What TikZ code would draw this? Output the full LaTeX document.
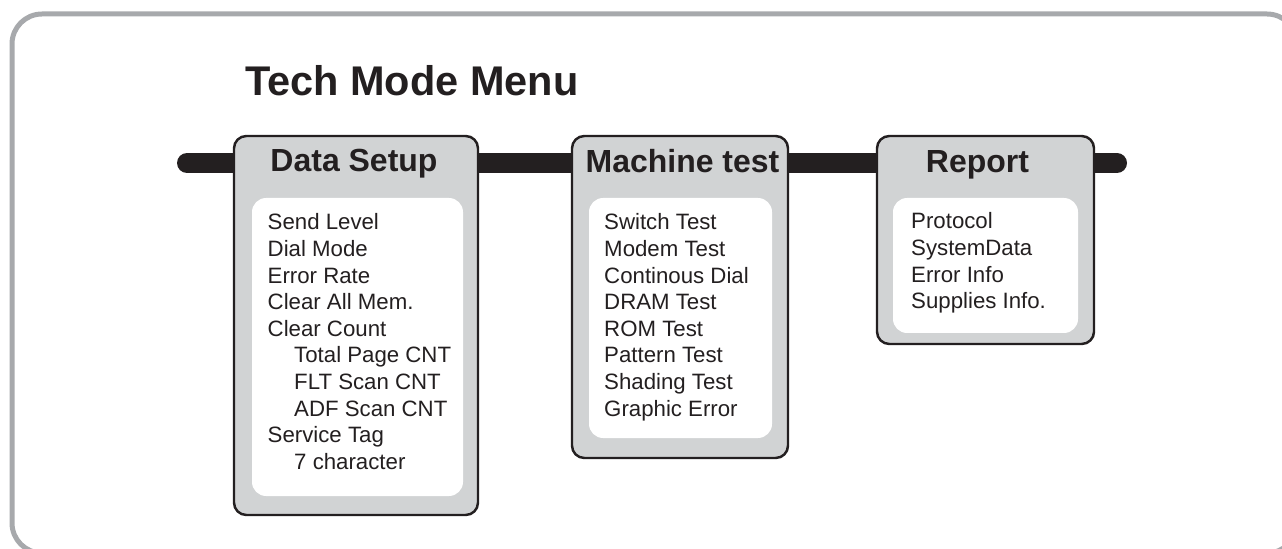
\documentclass[tikz,border=0pt]{standalone}
\usepackage{fontspec}
\setmainfont{Liberation Sans}
\usetikzlibrary{positioning, backgrounds}
\definecolor{cink}{HTML}{231F20}
\definecolor{cpanel}{HTML}{D1D3D4}
\definecolor{cframe}{HTML}{A7A9AC}
\tikzset{
  every picture/.style={line width=1.4pt},
  menubox/.style={draw=cink, fill=cpanel, rounded corners=7pt, inner sep=0pt},
  listbox/.style={fill=white, rounded corners=8pt, inner sep=0pt},
  title/.style={font=\fontsize{23.6}{28}\selectfont\bfseries, text=cink, inner sep=0pt, anchor=base west},
  head/.style={font=\fontsize{18.2}{22}\selectfont\bfseries, text=cink, inner sep=0pt, anchor=base},
  item/.style={font=\fontsize{12.65}{15}\selectfont, text=cink, inner sep=0pt, anchor=base west},
  bar/.style={draw=cink, line width=0.4cm, line cap=round},
}

\begin{document}
\begin{tikzpicture}
  \useasboundingbox (0,0) rectangle (25.64,-10.98);
  \clip (0,0) rectangle (25.64,-10.98);
  \draw[cframe, line width=0.1cm, rounded corners=0.6cm] (0.24,-0.28) rectangle (25.94,-11.06);
  \node[title] (ttl) at (4.88,-1.92) {Tech Mode Menu};

  % panels
  \node[menubox, minimum width=4.88cm, minimum height=7.58cm] (setup) at (7.12,-6.51) {};
  \node[menubox, minimum width=4.32cm, minimum height=6.44cm] (mtest) at (13.6,-5.94) {};
  \node[menubox, minimum width=4.34cm, minimum height=4.16cm] (report) at (19.71,-4.8) {};
  \node[listbox, minimum width=4.22cm, minimum height=5.96cm] (setupL) at (7.15,-6.94) {};
  \node[listbox, minimum width=3.66cm, minimum height=4.8cm] (mtestL) at (13.61,-6.36) {};
  \node[listbox, minimum width=3.7cm, minimum height=2.7cm] (reportL) at (19.71,-5.31) {};

  \node[head] (setupH) at (7.08,-3.44) {Data Setup};
  \node[head] (mtestH) at (13.65,-3.46) {Machine test};
  \node[head] (reportH) at (19.55,-3.46) {Report};

  % bar behind the panels
  \coordinate (barL) at (3.74,-3.26);
  \coordinate (barR) at (22.34,-3.26);
  \begin{scope}[on background layer]
  \draw[bar] (barL) -- (barL -| setup.west);
  \draw[bar] (barL -| setup.east) -- (barL -| mtest.west);
  \draw[bar] (barL -| mtest.east) -- (barL -| report.west);
  \draw[bar] (barL -| report.east) -- (barR);
  \end{scope}

  % items
  \foreach \t/\dx [count=\i from 0] in {Send Level/0, Dial Mode/0, Error Rate/0, Clear All Mem./0, Clear Count/0,
      Total Page CNT/0.53, FLT Scan CNT/0.53, ADF Scan CNT/0.53, Service Tag/0, 7 character/0.53}
    \node[item] (ds\i) at (5.33+\dx,-4.6-0.532*\i) {\t};
  \foreach \t [count=\i from 0] in {Switch Test, Modem Test, Continous Dial, DRAM Test, ROM Test,
      Pattern Test, Shading Test, Graphic Error}
    \node[item] (mt\i) at (12.06,-4.6-0.532*\i) {\t};
  \foreach \t [count=\i from 0] in {Protocol, SystemData, Error Info, Supplies Info.}
    \node[item] (rp\i) at (18.2,-4.58-0.532*\i) {\t};
\end{tikzpicture}
\end{document}
